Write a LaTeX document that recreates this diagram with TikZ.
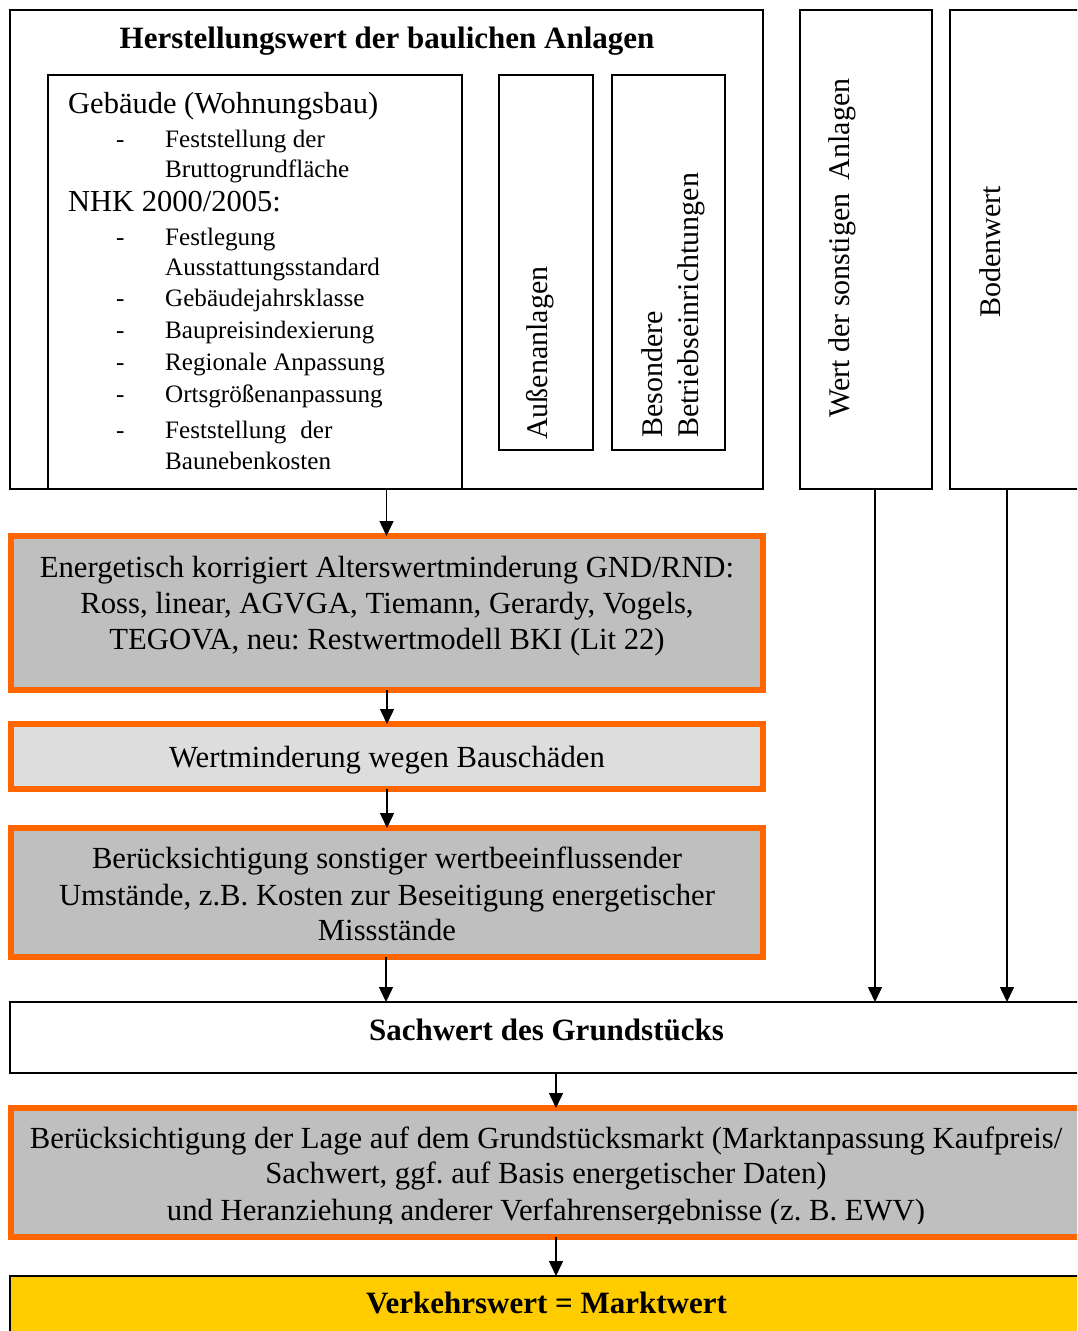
\documentclass[tikz,border=0pt]{standalone}
\usepackage{fontspec}
\setmainfont{Liberation Serif}
\usetikzlibrary{arrows.meta}
\definecolor{frameorange}{HTML}{FF6600}
\definecolor{fillgray}{HTML}{BFBFBF}
\definecolor{lightfill}{HTML}{DDDDDD}
\definecolor{gold}{HTML}{FFCC00}
\frenchspacing
\begin{document}
\begin{tikzpicture}[x=1pt,y=-1pt,
  box/.style={draw=black, line width=2pt, inner sep=0pt, outer sep=0pt, fill=white},
  obox/.style={draw=frameorange, line width=6.5pt, inner sep=0pt, outer sep=0pt, fill=fillgray},
  flow/.style={-{Triangle[length=15pt,width=14pt]}, line width=1.5pt},
  big/.style={font=\fontsize{30.7}{36}\selectfont, inner sep=0pt, anchor=base},
  bigb/.style={font=\fontsize{31}{36}\selectfont\bfseries, inner sep=0pt, anchor=base},
  head/.style={font=\fontsize{30.5}{36}\selectfont, inner sep=0pt, anchor=base west},
  item/.style={font=\fontsize{25.1}{30}\selectfont, inner sep=0pt, anchor=base west},
  vert/.style={font=\fontsize{30}{36}\selectfont, inner sep=0pt, anchor=base west, rotate=90}
]
\clip (0,0) rectangle (1077,1331);

% --- upper block: construction value and side columns
\node[box, minimum width=753pt, minimum height=479pt] (herst) at (386.5,249.5) {};
\node[bigb] (hersttitle) at (387,48) {Herstellungswert der baulichen Anlagen};
\node[box, minimum width=414pt, minimum height=414pt] (geb) at (255,282) {};
\node[box, minimum width=94pt, minimum height=375pt] (aussen) at (546,262.5) {};
\node[box, minimum width=113pt, minimum height=375pt] (bes) at (668.5,262.5) {};
\node[box, minimum width=132pt, minimum height=479pt] (wert) at (866,249.5) {};
\node[box, minimum width=152pt, minimum height=479pt] (boden) at (1026,249.5) {};

% building list
\node[head] (g1) at (68,113) {Gebäude (Wohnungsbau)};
\node[item] (d1) at (116,147) {-};
\node[item] (i1) at (165,147) {Feststellung der};
\node[item] (i1b) at (165,177) {Bruttogrundfläche};
\node[head] (g2) at (68,211) {NHK 2000/2005:};
\node[item] (d2) at (116,245) {-};
\node[item] (i2) at (165,245) {Festlegung};
\node[item] (i2b) at (165,275) {Ausstattungsstandard};
\node[item] (d3) at (116,306) {-};
\node[item] (i3) at (165,306) {Gebäudejahrsklasse};
\node[item] (d4) at (116,338) {-};
\node[item] (i4) at (165,338) {Baupreisindexierung};
\node[item] (d5) at (116,370) {-};
\node[item] (i5) at (165,370) {Regionale Anpassung};
\node[item] (d6) at (116,402) {-};
\node[item] (i6) at (165,402) {Ortsgrößenanpassung};
\node[item] (d7) at (116,438) {-};
\node[item] (i7) at (165,438) {Feststellung\hspace{0.3em} der};
\node[item] (i7b) at (165,469) {Baunebenkosten};

% vertical labels
\node[vert] (vaussen) at (547,440) {Außenanlagen};
\node[vert] (vbes1) at (662,438) {Besondere};
\node[vert] (vbes2) at (698,438) {Betriebseinrichtungen};
\node[vert] (vwert) at (849,418) {Wert der sonstigen\hspace{0.2em} Anlagen};
\node[vert] (vboden) at (1000,318) {Bodenwert};

% --- correction steps
\node[obox, minimum width=752pt, minimum height=154pt] (alter) at (387,613) {};
\node[big] (a1) at (387,577) {Energetisch korrigiert Alterswertminderung GND/RND:};
\node[big] (a2) at (387,613) {Ross, linear, AGVGA, Tiemann, Gerardy, Vogels,};
\node[big] (a3) at (387,649) {TEGOVA, neu: Restwertmodell BKI (Lit 22)};

\node[obox, fill=lightfill, minimum width=752pt, minimum height=65pt] (schaden) at (387,756.5) {};
\node[big] (s1) at (387,767) {Wertminderung wegen Bauschäden};

\node[obox, minimum width=752pt, minimum height=129pt] (sonst) at (387,892.5) {};
\node[big] (u1) at (387,868) {Berücksichtigung sonstiger wertbeeinflussender};
\node[big] (u2) at (387,905) {Umstände, z.B. Kosten zur Beseitigung energetischer};
\node[big] (u3) at (387,940) {Missstände};

% --- property value and market
\node[box, minimum width=1092pt, minimum height=71pt] (sach) at (556,1037.5) {};
\node[bigb] (sachtxt) at (546.5,1040) {Sachwert des Grundstücks};

\node[obox, minimum width=1091pt, minimum height=129pt] (markt) at (556.5,1172.5) {};
\node[big] (m1) at (546,1148) {Berücksichtigung der Lage auf dem Grundstücksmarkt (Marktanpassung Kaufpreis/};
\node[big] (m2) at (546,1183) {Sachwert, ggf. auf Basis energetischer Daten)};
\begin{scope}
  \clip (0,1112) rectangle (1102,1223);
  \node[big] (m3) at (546,1220) {und Heranziehung anderer Verfahrensergebnisse (z. B. EWV)};
\end{scope}

\node[box, fill=gold, minimum width=1092pt, minimum height=90pt] (verk) at (556,1321) {};
\node[bigb] (verktxt) at (546.5,1313) {Verkehrswert = Marktwert};

% --- connectors
\coordinate (wfoot) at ([xshift=9pt]wert.south);
\coordinate (bfoot) at ([xshift=-19pt]boden.south);
\coordinate (sfoot) at ([xshift=-1pt]sonst.south);
\draw[flow] (herst.south) -- (herst.south |- alter.north);
\draw[flow] (alter.south) -- (schaden.north);
\draw[flow] (schaden.south) -- (sonst.north);
\draw[flow] (sfoot) -- (sfoot |- sach.north);
\draw[flow] (wfoot) -- (wfoot |- sach.north);
\draw[flow] (bfoot) -- (bfoot |- sach.north);
\draw[flow] (sach.south) -- (sach.south |- markt.north);
\draw[flow] (sach.south |- markt.south) -- (sach.south |- verk.north);
\end{tikzpicture}
\end{document}
